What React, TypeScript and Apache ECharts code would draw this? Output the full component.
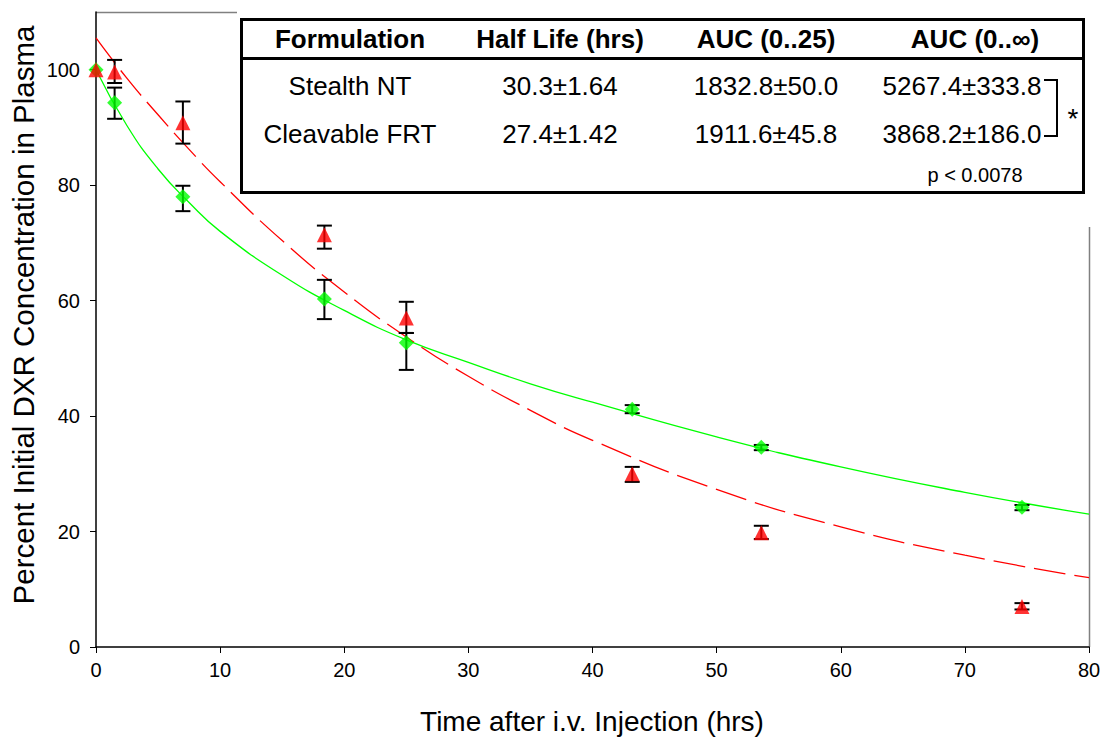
import React, { useEffect, useRef } from "react";
import * as echarts from "echarts";

const FONT = "'Liberation Sans', Arial, sans-serif";

// Measured data points (time in hrs, percent of initial)
const stealthX = [0, 1.5, 7, 18.4, 25, 43.2, 53.6, 74.6];
const stealthY = [100, 94.3, 78.0, 60.3, 52.7, 41.2, 34.6, 24.2];
const stealthLow = [100, 91.5, 75.5, 56.8, 48.0, 40.5, 34.1, 23.7];
const stealthHigh = [100, 96.9, 79.9, 63.6, 54.4, 41.9, 35.0, 24.6];

const cleavX = [0, 1.5, 7, 18.4, 25, 43.2, 53.6, 74.6];
const cleavY = [100, 99.6, 90.8, 71.4, 57.0, 30.0, 19.8, 7.0];
const cleavLow = [100, 97.7, 87.2, 69.0, 54.4, 28.6, 18.7, 6.5];
const cleavHigh = [100, 101.7, 94.5, 73.0, 59.8, 31.2, 21.0, 7.6];

// Fitted curves
const fitX = [0, 2.5, 5, 7.5, 10, 15, 20, 25, 30, 35, 40, 50, 60, 70, 80];
const stealthFit = [100, 90.3, 82.8, 77.0, 72.0, 64.4, 58.3, 53.2, 49.3, 45.6, 42.4, 36.4, 31.2, 26.8, 23.0];
const cleavFit = [105.5, 98.5, 92.2, 86.2, 80.6, 70.4, 61.5, 53.7, 46.9, 41.0, 35.8, 27.3, 20.8, 15.9, 12.0];

const yTicks = [0, 20, 40, 60, 80, 100];

// Table
const tableHeaders = ["Formulation", "Half Life (hrs)", "AUC (0..25)", "AUC (0..\u221E)"];
const tableRows = [
  ["Stealth NT", "30.3\u00B11.64", "1832.8\u00B150.0", "5267.4\u00B1333.8"],
  ["Cleavable FRT", "27.4\u00B11.42", "1911.6\u00B145.8", "3868.2\u00B1186.0"],
];
const pValueText = "p < 0.0078";

const errData = (xs: number[], lo: number[], hi: number[]) =>
  xs.map((x, i) => [x, lo[i], hi[i]]).filter((d) => d[1] !== d[2]);

const errRender = (params: any, api: any) => {
  const x = api.value(0);
  const a = api.coord([x, api.value(1)]);
  const b = api.coord([x, api.value(2)]);
  const w = 7.5;
  const style = { stroke: "#000", lineWidth: 2 };
  return {
    type: "group",
    children: [
      { type: "line", shape: { x1: a[0], y1: a[1], x2: b[0], y2: b[1] }, style },
      { type: "line", shape: { x1: a[0] - w, y1: a[1], x2: a[0] + w, y2: a[1] }, style },
      { type: "line", shape: { x1: b[0] - w, y1: b[1], x2: b[0] + w, y2: b[1] }, style },
    ],
  };
};

export default function App() {
  const ref = useRef<HTMLDivElement>(null);
  useEffect(() => {
    document.body.style.margin = "0";
    const chart = echarts.init(ref.current!, null, { renderer: "svg" });

    const colCenters = [350, 560, 766, 962];
    const tableGraphics: any[] = [];
    tableGraphics.push({
      type: "rect",
      shape: { x: 241.5, y: 19.5, width: 842, height: 173 },
      style: { fill: "#fff", stroke: "#000", lineWidth: 3 },
      z: 10,
    });
    tableGraphics.push({
      type: "line",
      shape: { x1: 241, y1: 58.5, x2: 1084, y2: 58.5 },
      style: { stroke: "#000", lineWidth: 3 },
      z: 11,
    });
    tableHeaders.forEach((h, i) => {
      tableGraphics.push({
        type: "text",
        x: colCenters[i] + (i === 3 ? 13 : 0),
        y: 38.5,
        z: 11,
        style: {
          text: h,
          font: `bold 26px ${FONT}`,
          fill: "#000",
          textAlign: "center",
          textVerticalAlign: "middle",
        },
      });
    });
    const rowY = [86, 134];
    tableRows.forEach((row, r) => {
      row.forEach((cell, i) => {
        tableGraphics.push({
          type: "text",
          x: colCenters[i],
          y: rowY[r],
          z: 11,
          style: {
            text: cell,
            font: `26px ${FONT}`,
            fill: "#000",
            textAlign: "center",
            textVerticalAlign: "middle",
          },
        });
      });
    });
    tableGraphics.push({
      type: "text",
      x: 975,
      y: 174.5,
      z: 11,
      style: { text: pValueText, font: `20px ${FONT}`, fill: "#000", textAlign: "center", textVerticalAlign: "middle" },
    });
    tableGraphics.push({
      type: "polyline",
      z: 11,
      shape: { points: [[1044, 80], [1057, 80], [1057, 136], [1044, 136]] },
      style: { stroke: "#000", lineWidth: 2, fill: null },
    });
    tableGraphics.push({
      type: "text",
      x: 1073,
      y: 118,
      z: 11,
      style: { text: "*", font: `28px ${FONT}`, fill: "#000", textAlign: "center", textVerticalAlign: "middle" },
    });

    chart.setOption({
      animation: false,
      backgroundColor: "#fff",
      grid: { left: 96, right: 16, top: 12, bottom: 93, containLabel: false },
      xAxis: {
        type: "value",
        min: 0,
        max: 80,
        interval: 10,
        axisLine: { show: true, onZero: false, lineStyle: { color: "#000", width: 1.5 } },
        axisTick: { show: true, length: 6, lineStyle: { color: "#000" } },
        axisLabel: { color: "#000", fontSize: 20, fontFamily: FONT, margin: 13 },
        splitLine: { show: false },
      },
      yAxis: {
        type: "value",
        min: 0,
        max: 110,
        interval: 20,
        axisLine: { show: true, onZero: false, lineStyle: { color: "#000", width: 1.5 } },
        axisTick: { show: true, length: 6, customValues: yTicks, lineStyle: { color: "#000" } },
        axisLabel: { color: "#000", fontSize: 20, fontFamily: FONT, margin: 16, customValues: yTicks },
        splitLine: { show: false },
      },
      graphic: [
        {
          type: "line",
          shape: { x1: 96, y1: 12.5, x2: 237, y2: 12.5 },
          style: { stroke: "#808080", lineWidth: 1.5 },
        },
        {
          type: "line",
          shape: { x1: 1089.5, y1: 227, x2: 1089.5, y2: 647 },
          style: { stroke: "#808080", lineWidth: 1.5 },
        },
        {
          type: "text",
          x: 592,
          y: 721,
          style: {
            text: "Time after i.v. Injection (hrs)",
            font: `28px ${FONT}`,
            fill: "#000",
            textAlign: "center",
            textVerticalAlign: "middle",
          },
        },
        {
          type: "text",
          x: 23,
          y: 315,
          rotation: Math.PI / 2,
          style: {
            text: "Percent Initial DXR Concentration in Plasma",
            font: `29.5px ${FONT}`,
            fill: "#000",
            textAlign: "center",
            textVerticalAlign: "middle",
          },
        },
        ...tableGraphics,
      ],
      series: [
        {
          name: "Stealth NT fit",
          type: "line",
          data: fitX.map((x, i) => [x, stealthFit[i]]),
          smooth: 0.5,
          showSymbol: false,
          lineStyle: { color: "#00ff00", width: 1.3 },
          z: 2,
        },
        {
          name: "Cleavable FRT fit",
          type: "line",
          data: fitX.map((x, i) => [x, cleavFit[i]]),
          smooth: 0.5,
          showSymbol: false,
          lineStyle: { color: "#ff0000", width: 1.3, type: [32, 9] },
          z: 2,
        },
        {
          name: "Stealth NT error",
          type: "custom",
          data: errData(stealthX, stealthLow, stealthHigh),
          encode: { x: 0, y: [1, 2] },
          renderItem: errRender,
          z: 3,
        },
        {
          name: "Stealth NT",
          type: "scatter",
          data: stealthX.map((x, i) => [x, stealthY[i]]),
          symbol: "diamond",
          symbolSize: 15,
          itemStyle: { color: "#00ff00" },
          z: 4,
        },
        {
          name: "Cleavable FRT error",
          type: "custom",
          data: errData(cleavX, cleavLow, cleavHigh),
          encode: { x: 0, y: [1, 2] },
          renderItem: errRender,
          z: 5,
        },
        {
          name: "Cleavable FRT",
          type: "scatter",
          data: cleavX.map((x, i) => [x, cleavY[i]]),
          symbol: "triangle",
          symbolSize: 15,
          itemStyle: { color: "#ff0000" },
          z: 6,
        },
      ],
    });
    return () => chart.dispose();
  }, []);
  return <div ref={ref} style={{ width: 1105, height: 740 }} />;
}
